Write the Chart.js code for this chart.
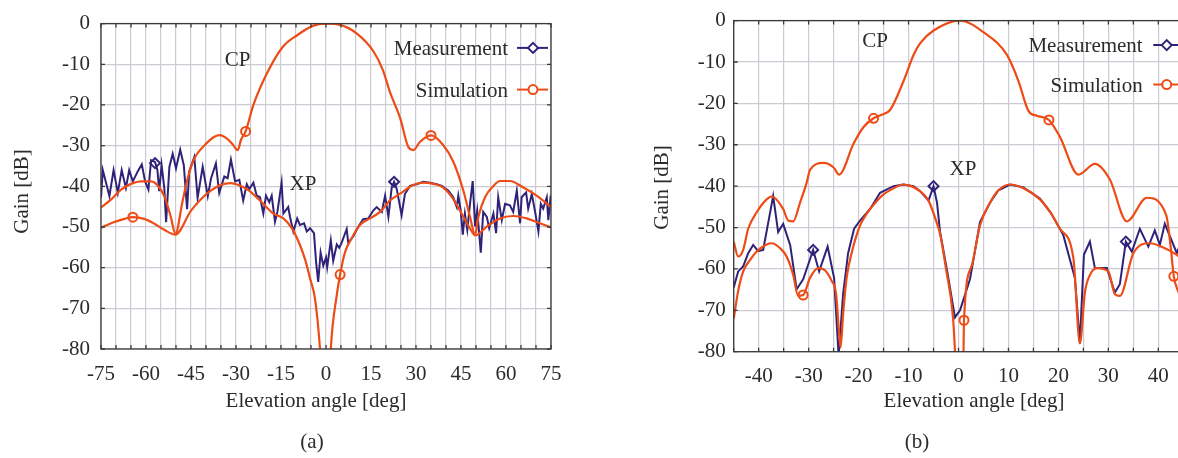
<!DOCTYPE html>
<html>
<head>
<meta charset="utf-8">
<script src="https://cdn.jsdelivr.net/npm/chart.js@4.4.1/dist/chart.umd.min.js"></script>
<style>
  html, body { margin: 0; padding: 0; background: #fff; overflow: hidden; }
  #wrap { position: relative; width: 1178px; height: 458px; overflow: hidden; }
  canvas { position: absolute; top: 0; }
</style>
</head>
<body>
<div id="wrap">
  <canvas id="chartA" width="600" height="458" style="left:0"></canvas>
  <canvas id="chartB" width="620" height="458" style="left:620px"></canvas>
</div>
<script>
// Tick labels
const yTickLabels = [0, -10, -20, -30, -40, -50, -60, -70, -80];
const xTickLabelsA = [-75, -60, -45, -30, -15, 0, 15, 30, 45, 60, 75];
const xTickLabelsB = [-40, -30, -20, -10, 0, 10, 20, 30, 40];

// (a) målt XP, [vinkel, gain]
const xpMeasA = [
  [-75,-42.8],[-74.4,-36],[-72.2,-42.4],[-70.8,-36],[-69.4,-41.6],[-68.1,-36],[-66.7,-40.4],[-65.6,-36],
  [-64.4,-38.8],[-62.8,-36.4],[-61.4,-34.6],[-60.3,-38.8],[-59.2,-40.8],[-58.3,-33.6],[-57,-34],[-56.2,-36],
  [-55.6,-41.2],[-54.8,-34.8],[-53.9,-40.4],[-53.3,-48.8],[-52.2,-35.2],[-51.1,-32],[-50,-35.6],[-48.6,-31],
  [-47.4,-34.8],[-46.3,-45.6],[-45.6,-36.4],[-43.9,-32.8],[-42.8,-42.8],[-41.1,-35.2],[-39.4,-42.4],[-38.3,-38],
  [-36.7,-34.4],[-35.6,-41.6],[-33.9,-37.6],[-32.8,-38],[-31.7,-33.4],[-30.3,-38.8],[-28.9,-38.4],[-27.6,-43.5],
  [-26.4,-39.5],[-25.6,-40.7],[-24.2,-39.1],[-23.1,-42.3],[-22,-42.7],[-20.9,-46.7],[-20,-42.3],[-18.9,-43.9],
  [-18.1,-42.3],[-17,-48.7],[-16.2,-46.3],[-14.8,-39.1],[-14.2,-46.7],[-12.6,-45.1],[-12,-47.5],[-10.9,-51.1],
  [-9.6,-47.9],[-8.7,-49.5],[-7.3,-49.1],[-6.4,-51.1],[-5.3,-50.3],[-4,-51.5],[-3.3,-58.7],[-2.6,-63.5],
  [-1.8,-56.3],[-0.9,-59.5],[0,-57.5],[0.4,-59.9],[1.6,-53.3],[2.4,-58.3],[3.6,-54.3],[4.4,-55.1],
  [5.2,-53.9],[6.9,-50.5],[7.4,-53.9],[9.1,-52.3],[10.8,-49.9],[12.4,-48.1],[14.1,-47.9],[15.8,-45.9],
  [16.9,-45.1],[18.6,-46.3],[19.7,-42.3],[20.8,-47.5],[21.9,-40.3],[22.7,-38.9],[23.6,-40.7],[25.2,-47.1],
  [26.3,-41.9],[28,-39.9],[30.2,-39.5],[32.4,-38.9],[34.7,-39.1],[36.9,-39.5],[38.6,-39.9],[40.8,-41.1],
  [42.4,-42.7],[43.6,-45.1],[44.1,-42.3],[44.9,-45.9],[45.6,-51.9],[46.3,-46.7],[47.1,-50.7],[48,-44.3],
  [48.9,-38.7],[49.7,-49.9],[50.4,-45.9],[51.6,-56.3],[52.4,-46.3],[53.6,-47.5],[54.4,-50.3],[55.8,-46.7],
  [56.7,-51.5],[57.4,-42.7],[58.6,-48.3],[59.7,-44.3],[61.3,-44.7],[62.4,-46.3],[63.6,-41.1],[64.7,-49.1],
  [65.2,-42.7],[66.7,-41.5],[67.4,-45.5],[68.6,-41.9],[69.7,-46.3],[70.8,-51.1],[71.6,-44.3],[72.4,-45.5],
  [73.6,-42.7],[74.1,-48.3],[74.9,-42.3]
];
const cpSimA = [
  [-75,-45.2],[-71.6,-43.2],[-68.3,-40.8],[-65,-39.4],[-61.6,-38.8],[-58.3,-38.8],[-56.6,-39.4],[-53.9,-42.4],
  [-51.7,-47.6],[-50.2,-51.7],[-47.8,-43.6],[-46.1,-38],[-43.9,-33.2],[-40.6,-30],[-37.2,-27.8],[-35.3,-27.4],
  [-33,-28.3],[-31,-29.8],[-29.4,-31.1],[-28.3,-28.5],[-26.8,-26.5],[-24.2,-20],[-19.8,-12.4],[-14.5,-5.8],
  [-9.5,-2.8],[-4.2,-0.5],[0,0],[4.7,-0.3],[10.2,-2.4],[15.8,-6.8],[19,-11.5],[21.3,-16.8],[24.7,-23.2],
  [27.4,-30.3],[29.1,-31.1],[31.3,-29.1],[35,-27.5],[39.1,-29.9],[42.4,-33.9],[45.8,-41.1],[48,-47.5],
  [49.7,-51.9],[50.8,-47.5],[53,-42.7],[55.8,-39.9],[58,-38.7],[61.3,-38.7],[65.8,-40.3],[70.2,-42.3],[75,-45.1]
];
const xpSimA = [
  [-75,-50.2],[-70.6,-48.8],[-67.2,-48],[-64.4,-47.6],[-60.6,-48],[-57.2,-49.2],[-53.9,-50.7],[-50.2,-51.9],
  [-45,-46],[-40.6,-42.4],[-36.1,-40],[-33.9,-39.4],[-31.7,-39.2],[-29.4,-39.6],[-26.1,-40.8],[-22,-43.5],
  [-17.5,-46.7],[-14.2,-47.9],[-11.4,-50.3],[-9.2,-53.5],[-7,-57.9],[-5.3,-62.7],[-3.7,-67.5],[-2,-80],
  [-0.5,-100],[0.5,-100],[1.6,-80],[3.6,-66.7],[4.7,-61.7],[6.3,-56.3],[8.6,-52.7],[11.3,-49.5],[14.7,-47.9],
  [18,-46.3],[21.3,-43.5],[24.7,-41.8],[29.1,-39.7],[32.4,-39.1],[35.8,-39.4],[39.1,-40.3],[42.4,-43.1],
  [45.8,-47.5],[48.6,-51.1],[49.7,-52.1],[53.6,-49.9],[58,-47.9],[62.4,-47.3],[66.9,-47.9],[71.3,-49.1],[75,-50.1]
];
const measMarksA = [[-57,-34.3],[22.7,-38.9]];
const simMarksA = [[-64.4,-47.6],[-26.8,-26.5],[4.7,-61.7],[35,-27.5]];

// (b)
const xpMeasB = [
  [-45,-64.5],[-44.1,-60.6],[-43.1,-59.4],[-42.1,-56.2],[-41.1,-54.2],[-40.1,-55.7],[-39.1,-55.4],[-37.1,-42.4],
  [-36.1,-51.1],[-35.1,-49.1],[-33.7,-54.2],[-32.4,-64.9],[-31.1,-62.5],[-30.1,-59],[-29.1,-55.4],[-27.9,-60.6],
  [-26.2,-54.6],[-24.9,-62.2],[-24,-81],[-23.1,-66.1],[-22.1,-56.2],[-20.9,-50.3],[-19.7,-48.3],[-17.7,-45.5],
  [-15.7,-41.6],[-13,-40],[-11,-39.6],[-9,-40],[-7.7,-41.2],[-6,-43.5],[-5,-40],[-4.3,-44],[-3.7,-51],
  [-2.2,-61],[-0.7,-71.7],[0.3,-70],[2.3,-62.5],[4.3,-48.7],[6.3,-44],[8,-41],[10.3,-39.6],[13,-40.3],
  [16.3,-43],[18.5,-46.5],[20.3,-50.3],[21,-51.9],[23.3,-62.2],[24.3,-78],[25.1,-56.6],[26.3,-53.4],
  [27.3,-59.8],[29.7,-59.8],[31.3,-65.7],[32.3,-63.7],[33.5,-53.4],[34.7,-55.8],[36.3,-50.3],[38,-54.6],
  [39.3,-50.7],[40.3,-54.2],[41.3,-49.1],[43.7,-56.2],[45,-52]
];
const cpSimB = [
  [-45,-53.4],[-44.1,-57],[-43.1,-55.4],[-42.1,-50.3],[-40.4,-46.3],[-38.4,-43.2],[-37.4,-42.5],[-35.1,-45.5],
  [-34.1,-48.3],[-33.1,-48.5],[-31.7,-43.9],[-30.4,-39.2],[-29.7,-36],[-27,-34.4],[-25,-35.5],[-23.9,-37.2],
  [-21,-29.7],[-19,-25.7],[-17,-23.6],[-15.5,-22.8],[-13.7,-21.6],[-11,-14.6],[-9,-8.3],[-7.7,-5.5],[-5,-2.4],
  [0.3,0],[5,-2.8],[9.7,-8.3],[12,-14.6],[14,-21.8],[15.7,-23],[18.1,-24],[20.3,-28.1],[24,-37.2],[27.3,-34.6],
  [30.3,-38.4],[33.7,-48.5],[37.7,-42.8],[41.6,-47.1],[42.5,-55],[43.1,-61.8],[44,-65.5],[45,-68]
];
const xpSimB = [
  [-45,-72],[-44.1,-65.3],[-43.1,-60.6],[-41.7,-57.8],[-40.4,-55.8],[-38.4,-54.1],[-37.4,-53.8],[-35.7,-55],
  [-34.4,-57],[-33.1,-61.4],[-32.1,-66.5],[-31.1,-66.3],[-29.7,-62.1],[-28.1,-59.8],[-26.7,-60.4],[-25.4,-62.9],
  [-24.5,-66.1],[-23.9,-75.6],[-23.6,-79],[-23.1,-70.9],[-22.4,-62.2],[-21.4,-56.2],[-19.7,-49.5],[-18.4,-46.7],
  [-17,-44.5],[-15,-42],[-13.1,-40.6],[-11.1,-39.6],[-9.5,-40],[-7.7,-41.2],[-6,-43.5],[-4.4,-48.7],[-3.7,-51.5],
  [-2.5,-60],[-1.1,-71.7],[-0.7,-80],[0,-100],[1,-80],[1.1,-72.4],[2.7,-59],[4.3,-49.5],[6.3,-44],[8,-41],
  [10.3,-39.6],[13,-40.5],[16.3,-43.2],[18.5,-46.5],[20.3,-50.3],[23,-57.4],[24.3,-78],[25.3,-65.7],[26.3,-61.5],
  [27.7,-59.8],[30,-60.6],[31.3,-66.1],[32.3,-66.5],[35,-56.2],[38.3,-53.8],[41,-54.8],[43.7,-56.6],[45,-58]
];
const measMarksB = [[-29.1,-55.4],[-5,-40],[33.5,-53.4]];
const simMarksB = [[-31.1,-66.3],[-17,-23.6],[1.1,-72.4],[18.1,-24],[43.1,-61.8]];

const NAVY = '#2f2379';
const ORANGE = '#ee4c16';
const GRID = '#cbcbd3';
const TEXT = '#2b2b2b';
const FONT = '"Liberation Serif", "Times New Roman", serif';

const pts = (arr) => arr.map(([x, y]) => ({ x, y }));

function drawMark(ctx, style, x, y, color) {
  ctx.save();
  ctx.strokeStyle = color;
  ctx.lineWidth = 2;
  ctx.beginPath();
  if (style === 'circle') {
    ctx.arc(x, y, 4.5, 0, Math.PI * 2);
  } else {
    ctx.moveTo(x - 5, y); ctx.lineTo(x, y - 5); ctx.lineTo(x + 5, y); ctx.lineTo(x, y + 5); ctx.closePath();
  }
  ctx.fillStyle = '#fff';
  ctx.fill();
  ctx.stroke();
  ctx.restore();
}

// ramme, tekster og forklaring
const decor = {
  id: 'decor',
  afterDraw(chart, _args, o) {
    const { ctx, chartArea: a, scales: { x, y } } = chart;
    ctx.save();
    ctx.strokeStyle = '#3a3a3a';
    ctx.lineWidth = 1.3;
    ctx.strokeRect(a.left, a.top, a.right - a.left, a.bottom - a.top);
    ctx.beginPath();
    x.ticks.forEach((t) => {
      const px = x.getPixelForValue(t.value);
      ctx.moveTo(px, a.bottom); ctx.lineTo(px, a.bottom - 4);
      ctx.moveTo(px, a.top); ctx.lineTo(px, a.top + 4);
    });
    y.ticks.forEach((t) => {
      const py = y.getPixelForValue(t.value);
      ctx.moveTo(a.left, py); ctx.lineTo(a.left + 4, py);
      ctx.moveTo(a.right, py); ctx.lineTo(a.right - 4, py);
    });
    ctx.stroke();

    ctx.fillStyle = TEXT;
    ctx.font = `21px ${FONT}`;
    ctx.textAlign = 'center';
    ctx.textBaseline = 'alphabetic';
    o.notes.forEach((n) => ctx.fillText(n.text, x.getPixelForValue(n.at[0]), y.getPixelForValue(n.at[1]) + 7));
    ctx.fillText('Elevation angle [deg]', o.xTitle[0], o.xTitle[1]);
    ctx.fillText(o.panel, o.panelPos[0], o.panelPos[1]);
    ctx.save();
    ctx.translate(o.yTitle[0], o.yTitle[1]);
    ctx.rotate(-Math.PI / 2);
    ctx.fillText('Gain [dB]', 0, 7);
    ctx.restore();

    const L = o.legend;
    [['Measurement', NAVY, 'diamond', L.rows[0]], ['Simulation', ORANGE, 'circle', L.rows[1]]].forEach(([txt, col, st, dy]) => {
      const ly = a.top + dy;
      ctx.textAlign = 'right';
      ctx.fillStyle = TEXT;
      ctx.fillText(txt, a.right + L.textEnd, ly + 7);
      ctx.strokeStyle = col;
      ctx.lineWidth = 2;
      ctx.beginPath();
      ctx.moveTo(a.right + L.lineStart, ly);
      ctx.lineTo(a.right + L.lineEnd, ly);
      ctx.stroke();
      drawMark(ctx, st, a.right + L.mark, ly, col);
    });
    ctx.restore();
  }
};

function makeChart(id, c) {
  const tickFont = { family: FONT, size: 21 };
  return new Chart(document.getElementById(id), {
    type: 'line',
    data: {
      datasets: [
        { data: pts(c.meas), borderColor: NAVY, borderWidth: 2, pointRadius: 0, tension: 0, order: 3 },
        { data: pts(c.cp), borderColor: ORANGE, borderWidth: 2.2, pointRadius: 0, cubicInterpolationMode: 'monotone', order: 2 },
        { data: pts(c.xp), borderColor: ORANGE, borderWidth: 2.2, pointRadius: 0, cubicInterpolationMode: 'monotone', order: 2 },
        { data: pts(c.measMarks), showLine: false, pointStyle: 'rectRot', pointRadius: 5, borderWidth: 2,
          borderColor: NAVY, backgroundColor: 'rgba(255,255,255,0)', order: 1 },
        { data: pts(c.simMarks), showLine: false, pointStyle: 'circle', pointRadius: 4.5, borderWidth: 2,
          borderColor: ORANGE, backgroundColor: 'rgba(255,255,255,0)', order: 1 },
      ]
    },
    options: {
      responsive: false,
      animation: false,
      events: [],
      layout: { padding: { left: 0, top: 15, right: c.padRight, bottom: 0 } },
      plugins: {
        legend: { display: false },
        tooltip: { enabled: false },
        decor: c.decor,
      },
      scales: {
        x: {
          type: 'linear',
          min: c.xMin, max: c.xMax,
          afterFit(s) { s.height = c.xHeight; },
          border: { display: false },
          grid: { color: GRID, lineWidth: 1.2, drawTicks: false },
          ticks: {
            stepSize: 5, autoSkip: false, maxRotation: 0, padding: c.xPad, color: TEXT, font: tickFont,
            callback: (v) => (c.xLabels.includes(Math.round(v)) ? String(Math.round(v)) : ''),
          },
        },
        y: {
          min: -80, max: 0,
          afterFit(s) { s.width = c.yWidth; },
          border: { display: false },
          grid: { color: GRID, lineWidth: 1.2, drawTicks: false },
          ticks: {
            stepSize: 10, padding: c.yPad, labelOffset: 0, color: TEXT, font: tickFont,
            callback: (v) => (yTickLabels.includes(Math.round(v)) ? String(Math.round(v)) : ''),
          },
        },
      },
    },
    plugins: [decor],
  });
}

makeChart('chartA', {
  meas: xpMeasA, cp: cpSimA, xp: xpSimA, measMarks: measMarksA, simMarks: simMarksA,
  xMin: -75, xMax: 75, xLabels: xTickLabelsA,
  padRight: 49, xHeight: 109, yWidth: 101, xPad: 13, yPad: 11,
  decor: {
    notes: [{ text: 'CP', at: [-29.5, -8.8] }, { text: 'XP', at: [-7.7, -39.3] }],
    xTitle: [316, 407], yTitle: [20.5, 191.5], panel: '(a)', panelPos: [312, 448],
    legend: { textEnd: -43, lineStart: -34, lineEnd: -3, mark: -18, rows: [24.3, 66] },
  },
});

makeChart('chartB', {
  meas: xpMeasB, cp: cpSimB, xp: xpSimB, measMarks: measMarksB, simMarks: simMarksB,
  xMin: -45, xMax: 45, xLabels: xTickLabelsB,
  padRight: 56.7, xHeight: 106.3, yWidth: 113.7, xPad: 12, yPad: 8,
  decor: {
    notes: [{ text: 'CP', at: [-16.7, -4.75] }, { text: 'XP', at: [0.9, -35.6] }],
    xTitle: [354, 407], yTitle: [40.5, 187.5], panel: '(b)', panelPos: [297, 447.5],
    legend: { textEnd: -40.6, lineStart: -30, lineEnd: 6, mark: -16.6, rows: [24.5, 64] },
  },
});
</script>
</body>
</html>
